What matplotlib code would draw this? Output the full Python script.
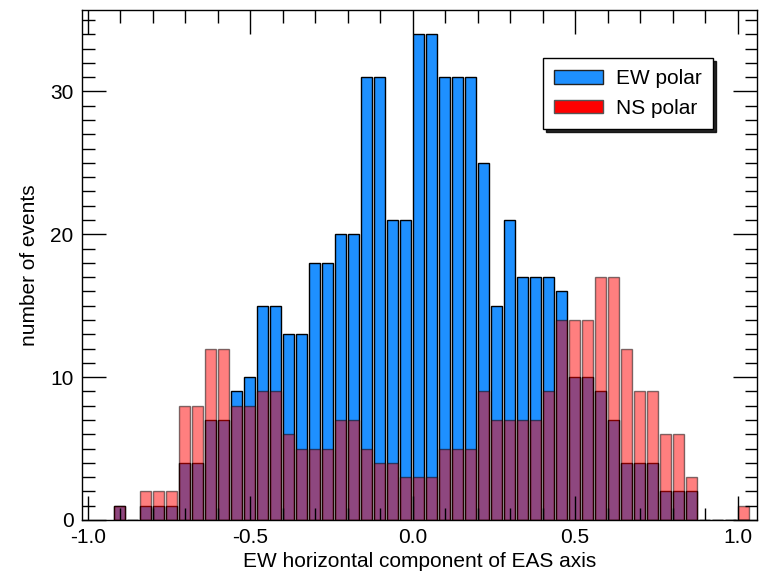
import numpy as np
import matplotlib
matplotlib.use("Agg")
import matplotlib.pyplot as plt
from matplotlib.patches import Patch
from matplotlib.ticker import MultipleLocator

plt.rcParams['font.family'] = ['Liberation Sans', 'DejaVu Sans']

# Histogram bins: left edges from -0.92 to 1.00, width 0.04
bin_width = 0.04
bin_index = list(range(-23, 26))
ew_counts = [1, 0, 1, 1, 1, 4, 4, 7, 7, 9, 10, 15, 15, 13, 13, 18, 18, 20, 20, 31, 31, 21, 21,
             34, 34, 31, 31, 31, 25, 15, 21, 17, 17, 17, 16, 10, 10, 9, 7, 4, 4, 4, 2, 2, 2,
             0, 0, 0, 0]
ns_counts = [1, 0, 2, 2, 2, 8, 8, 12, 12, 8, 8, 9, 9, 6, 5, 5, 5, 7, 7, 5, 4, 4, 3,
             3, 3, 5, 5, 5, 9, 7, 7, 7, 7, 9, 14, 14, 14, 17, 17, 12, 9, 9, 6, 6, 3,
             0, 0, 0, 1]
series_labels = ["EW polar", "NS polar"]
xlabel = "EW horizontal component of EAS axis"
ylabel = "number of events"

left_edges = np.array(bin_index) * bin_width

fig = plt.figure(figsize=(7.67, 5.73), dpi=100)
ax = fig.add_axes([0.1069, 0.0925, 0.987 - 0.1069, 0.9825 - 0.0925])

bw = bin_width * 0.87
ax.bar(left_edges, ew_counts, width=bw, align='edge', color='#1E90FF',
       edgecolor='black', linewidth=1.0, zorder=1)
ax.bar(left_edges, ns_counts, width=bw, align='edge', color='red',
       edgecolor='black', linewidth=1.0, alpha=0.5, zorder=1.1)

ax.set_xlim(-1.018, 1.06)
ax.set_ylim(0, 35.7)

ax.xaxis.set_major_locator(MultipleLocator(0.5))
ax.xaxis.set_minor_locator(MultipleLocator(0.1))
ax.yaxis.set_major_locator(MultipleLocator(10))
ax.yaxis.set_minor_locator(MultipleLocator(1))
ax.xaxis.set_major_formatter(plt.FuncFormatter(lambda v, p: f"{v:.1f}"))

ax.tick_params(which='both', direction='in', top=True, right=True, width=1.0,
               labelsize=15, color='black')
ax.tick_params(which='major', length=17)
ax.tick_params(which='minor', length=9)
ax.tick_params(axis='x', which='major', pad=5.5)
ax.tick_params(axis='y', which='major', pad=6)

for s in ax.spines.values():
    s.set_linewidth(1.0)

ax.set_xlabel(xlabel, fontsize=15, labelpad=4)
ax.set_ylabel(ylabel, fontsize=15, labelpad=8)

handles = [Patch(facecolor='#1E90FF', edgecolor='#222222', linewidth=1.0),
           Patch(facecolor='red', edgecolor='#555555', linewidth=1.0)]
leg = ax.legend(handles, series_labels, loc='upper right',
                bbox_to_anchor=(0.935, 0.906), fontsize=15,
                fancybox=False, frameon=True, edgecolor='black',
                framealpha=1, shadow={'color': 'black', 'alpha': 0.85},
                handlelength=2.35, handleheight=0.65, handletextpad=0.6,
                labelspacing=0.5, borderpad=0.55, borderaxespad=0)
leg.get_frame().set_linewidth(1.0)

fig.savefig("out.png", dpi=100)
